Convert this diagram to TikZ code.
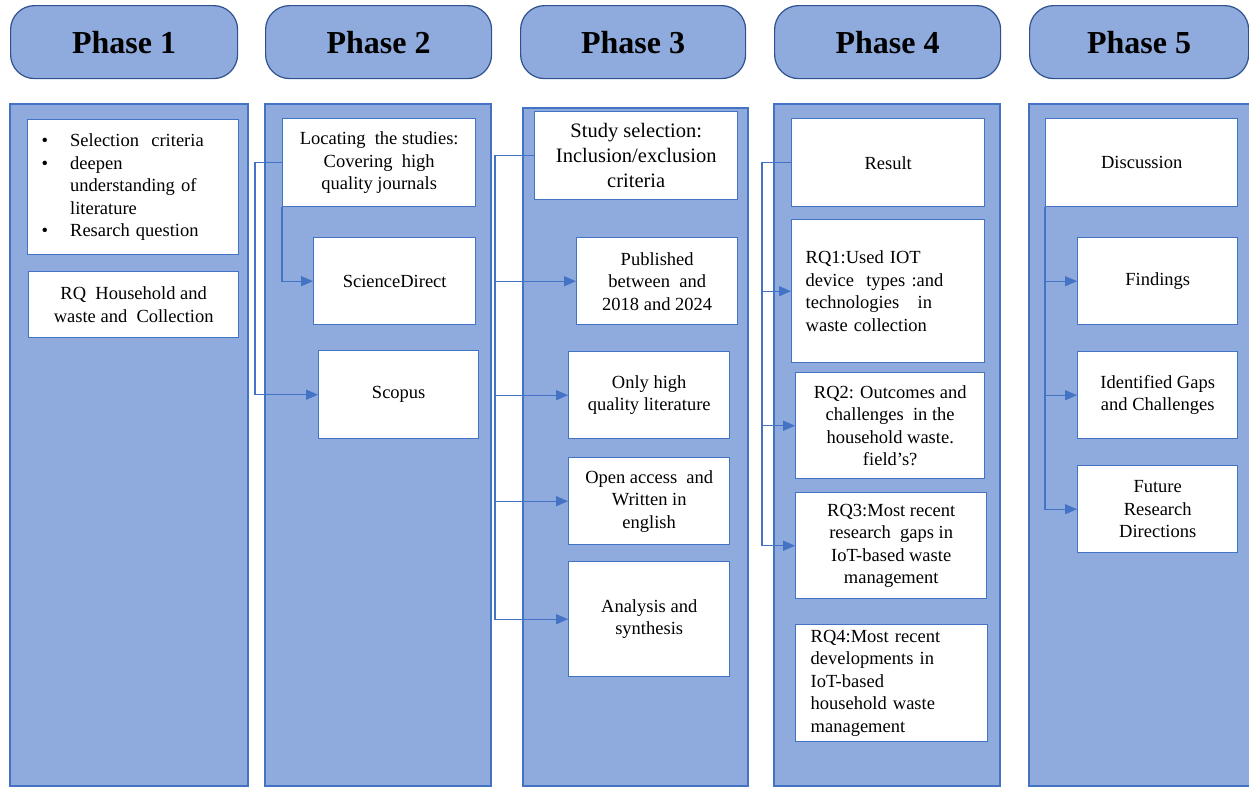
\documentclass[tikz,border=0pt]{standalone}
\usepackage{fontspec}
\setmainfont{Liberation Serif}
\usetikzlibrary{arrows.meta}

\definecolor{phasefill}{HTML}{8FAADC}
\definecolor{phaseline}{HTML}{4472C4}
\definecolor{headline}{HTML}{2F528F}

\tikzset{
  phasehead/.style={draw=headline, line width=1.2pt, fill=phasefill, rounded corners=24pt,
    anchor=north west, inner sep=0pt, font=\fontsize{32}{36}\selectfont\bfseries},
  column/.style={draw=phaseline, line width=1.8pt, fill=phasefill},
  stepbox/.style={draw=phaseline, line width=1.4pt, fill=white, anchor=north west,
    inner sep=0pt, align=center, font=\fontsize{18.5}{22.5}\selectfont},
  link/.style={draw=phaseline, line width=1.3pt, -{Triangle[length=12pt,width=10pt]}}
}

\begin{document}
\begin{tikzpicture}[x=1pt, y=-1pt]
        \useasboundingbox (0,0) rectangle (1249,788);
        \clip (0,0) rectangle (1249,788);

        % headers
        \node[phasehead, minimum width=227pt, minimum height=73pt] (ph1) at (10,5) {Phase 1};
        \node[phasehead, minimum width=226pt, minimum height=73pt] (ph2) at (265,5) {Phase 2};
        \node[phasehead, minimum width=225pt, minimum height=73pt] (ph3) at (520,5) {Phase 3};
        \node[phasehead, minimum width=226pt, minimum height=73pt] (ph4) at (774,5) {Phase 4};
        \node[phasehead, minimum width=219pt, minimum height=73pt] (ph5) at (1029,5) {Phase 5};

        % columns
        \draw[column] (10,104) rectangle (248,786);
        \draw[column] (265,104) rectangle (491,786);
        \draw[column] (523,108) rectangle (748,786);
        \draw[column] (774,104) rectangle (1000,786);
        \draw[column] (1029,104) rectangle (1255,786);

        % phase 1
        \node[stepbox, minimum width=211pt, minimum height=135pt, align=left,
            text width=183pt, inner xsep=14pt] (crit) at (27,119) {%
            \begin{tabular}{@{}l@{\hspace{22pt}}l@{}}
                \textbullet & Selection\ \ criteria \\
                \textbullet & deepen \\
                            & understanding of \\
                            & literature \\
                \textbullet & Resarch question
            \end{tabular}};
        \node[stepbox, minimum width=210pt, minimum height=66pt] (rq) at (28,271)
            {RQ\ \ Household and\\waste and\ \ Collection};

        % phase 2
        \node[stepbox, minimum width=193pt, minimum height=88pt] (locate) at (282,118)
            {Locating\ \ the studies:\\Covering\ \ high\\quality journals};
        \node[stepbox, minimum width=162pt, minimum height=87pt] (scidir) at (313,237) {ScienceDirect};
        \node[stepbox, minimum width=160pt, minimum height=88pt] (scopus) at (318,350) {Scopus};

        % phase 3
        \node[stepbox, minimum width=203pt, minimum height=88pt,
            font=\fontsize{20.5}{25}\selectfont] (study) at (534,111)
            {Study selection:\\Inclusion/exclusion\\criteria};
        \node[stepbox, minimum width=161pt, minimum height=87pt] (published) at (576,237)
            {Published\\between\ \ and\\2018 and 2024};
        \node[stepbox, minimum width=161pt, minimum height=87pt] (onlyhigh) at (568,351)
            {Only high\\quality literature};
        \node[stepbox, minimum width=161pt, minimum height=87pt] (openacc) at (568,457)
            {Open access\ \ and\\Written in\\english};
        \node[stepbox, minimum width=161pt, minimum height=115pt] (analysis) at (568,561)
            {Analysis and\\synthesis};

        % phase 4
        \node[stepbox, minimum width=193pt, minimum height=88pt] (result) at (791,118) {Result};
        \node[stepbox, minimum width=193pt, minimum height=143pt, align=left,
            text width=165pt, inner xsep=14pt] (rqone) at (791,219)
            {RQ1:Used IOT\\device\ \ types :and\\technologies\ \ \ in\\waste collection};
        \node[stepbox, minimum width=189pt, minimum height=106pt] (rqtwo) at (795,372)
            {RQ2: Outcomes and\\challenges\ \ in the\\household waste.\\field's?};
        \node[stepbox, minimum width=191pt, minimum height=106pt] (rqthree) at (795,492)
            {RQ3:Most recent\\research\ \ gaps in\\IoT-based waste\\management};
        \node[stepbox, minimum width=192pt, minimum height=117pt, align=left,
            text width=162pt, inner xsep=15pt] (rqfour) at (795,624)
            {RQ4:Most recent\\developments in\\IoT-based\\household waste\\management};

        % phase 5
        \node[stepbox, minimum width=192pt, minimum height=88pt] (discuss) at (1045,118) {Discussion};
        \node[stepbox, minimum width=160pt, minimum height=87pt] (findings) at (1077,237) {Findings};
        \node[stepbox, minimum width=160pt, minimum height=87pt] (gaps) at (1077,351)
            {Identified Gaps\\and Challenges};
        \node[stepbox, minimum width=160pt, minimum height=87pt] (future) at (1077,465)
            {Future\\Research\\Directions};

        % connectors
        \draw[link] (locate.south west) |- (scidir.west);
        \draw[link] (locate.west) -- ++(-27,0) |- (scopus.west);

        \draw (study.west) ++(-39,0) coordinate (trunk3);
        \draw[link] (study.west) -- (trunk3) |- (analysis.west);
        \draw[link] (trunk3) |- (published.west);
        \draw[link] (trunk3) |- (onlyhigh.west);
        \draw[link] (trunk3) |- (openacc.west);

        \draw (result.west) ++(-29,0) coordinate (trunk4);
        \draw[link] (result.west) -- (trunk4) |- (rqthree.west);
        \draw[link] (trunk4) |- (rqone.west);
        \draw[link] (trunk4) |- (rqtwo.west);

        \draw[link] (discuss.south west) |- (future.west);
        \draw[link] (discuss.south west) |- (findings.west);
        \draw[link] (discuss.south west) |- (gaps.west);
\end{tikzpicture}
\end{document}
